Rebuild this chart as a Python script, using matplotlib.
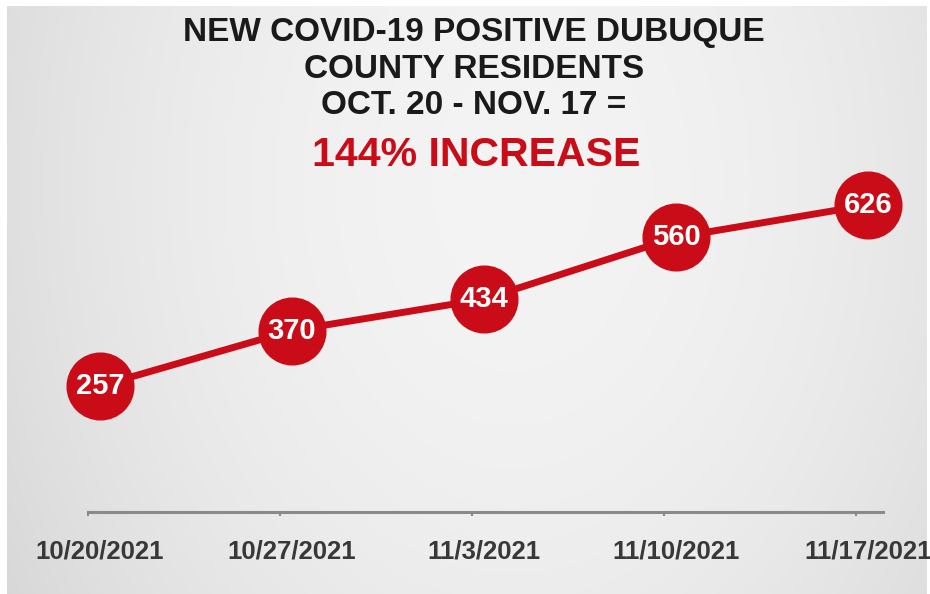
import numpy as np
import matplotlib
matplotlib.use("Agg")
import matplotlib.pyplot as plt

dates = ["10/20/2021", "10/27/2021", "11/3/2021", "11/10/2021", "11/17/2021"]
cases = [257, 370, 434, 560, 626]
title_lines = ["NEW COVID-19 POSITIVE DUBUQUE", "COUNTY RESIDENTS", "OCT. 20 - NOV. 17 ="]
headline = "144% INCREASE"

RED = "#c90c17"
FONT = "Liberation Sans"

W, H = 930, 594
fig = plt.figure(figsize=(W / 100, H / 100), dpi=100)
fig.patch.set_facecolor("white")

# background gradient panel
bg = fig.add_axes([7 / W, 0, (926 - 7) / W, (594 - 6) / H])
bg.set_axis_off()
ny, nx = 300, 460
yy, xx = np.mgrid[0:1:ny * 1j, 0:1:nx * 1j]
d = np.sqrt(((xx - 0.55) / 0.7) ** 2 + ((yy - 0.3) / 1.5) ** 2)
v = 0.955 - 0.13 * np.clip(d, 0, 1) ** 2.0
img = np.dstack([v, v, v])
bg.imshow(img, aspect="auto", extent=[0, 1, 0, 1], origin="upper")
bg.set_xlim(0, 1)
bg.set_ylim(0, 1)

# data axes
x0, x1 = 88, 883
ybase, ytop = 512, 512 - 700 * 0.4905
ax = fig.add_axes([x0 / W, (H - ybase) / H, (x1 - x0) / W, (ybase - ytop) / H])
ax.patch.set_alpha(0)
x = np.arange(len(cases))
ax.set_xlim(-0.0625, len(cases) - 1 + 0.078)
ax.set_ylim(0, 700)
ax.plot(x, cases, color=RED, lw=5, solid_capstyle="round", zorder=2, clip_on=False)
ax.plot(x, cases, "o", ms=48, color=RED, mec=RED, zorder=3, clip_on=False)
for xi, c in zip(x, cases):
    ax.text(xi, c, str(c), ha="center", va="center", color="white",
            fontsize=21, fontweight="bold", family=FONT, zorder=4, clip_on=False)

for s in ["top", "right", "left"]:
    ax.spines[s].set_visible(False)
ax.spines["bottom"].set_color("#8a8a8a")
ax.spines["bottom"].set_linewidth(2.2)
ax.set_yticks([])
ax.set_xticks(x)
ax.set_xticklabels(dates)
ax.tick_params(axis="x", length=0, pad=20)
for lab in ax.get_xticklabels():
    lab.set_fontsize(18.5)
    lab.set_fontweight("bold")
    lab.set_family(FONT)
    lab.set_color("#383838")
ax.set_xticks(x - 0.0625, minor=True)
ax.tick_params(axis="x", which="minor", length=3, width=1.5, color="#8a8a8a")

# titles
ys = [32, 70, 106]
for t, yp in zip(title_lines, ys):
    fig.text(474 / W, 1 - yp / H, t, ha="center", va="center", fontsize=24,
             fontweight="bold", family=FONT, color="#1a1a1a")
fig.text(476 / W, 1 - 155 / H, headline, ha="center", va="center", fontsize=29.5,
         fontweight="bold", family=FONT, color=RED)

fig.savefig("out.png", dpi=100)
